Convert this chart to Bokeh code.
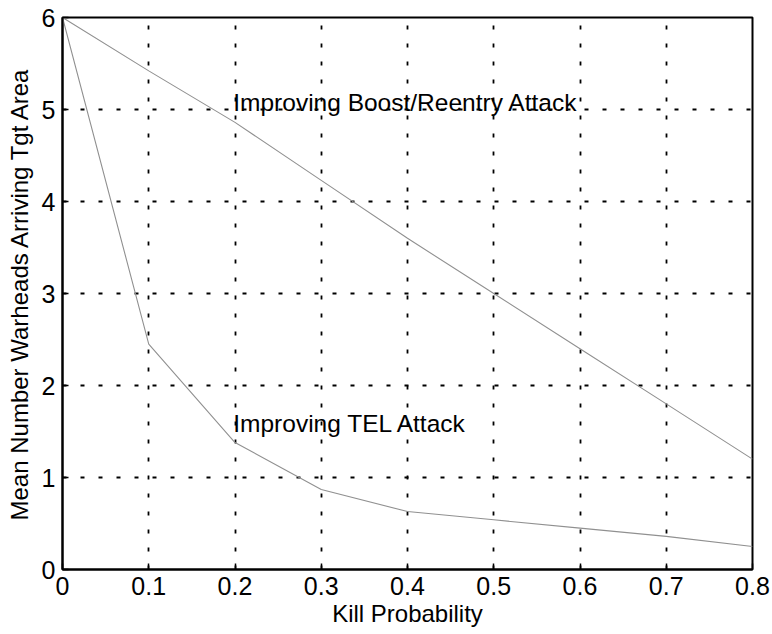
from bokeh.plotting import figure
from bokeh.models import Range1d, FixedTicker
from bokeh.core.properties import value
from bokeh.embed import file_html
from bokeh.resources import INLINE

# Data
kill_prob = [0.0, 0.1, 0.2, 0.3, 0.4, 0.5, 0.6, 0.7, 0.8]
boost_reentry = [6.0, 5.42, 4.86, 4.23, 3.6, 3.0, 2.4, 1.8, 1.2]
tel_attack = [6.0, 2.45, 1.38, 0.87, 0.63, 0.54, 0.45, 0.36, 0.25]

x_ticks = [0, 0.1, 0.2, 0.3, 0.4, 0.5, 0.6, 0.7, 0.8]
x_tick_labels = ["0", "0.1", "0.2", "0.3", "0.4", "0.5", "0.6", "0.7", "0.8"]
y_ticks = [0, 1, 2, 3, 4, 5, 6]
y_tick_labels = ["0", "1", "2", "3", "4", "5", "6"]

annotations = ["Improving Boost/Reentry Attack", "Improving TEL Attack"]

FONT = "Liberation Sans"

p = figure(width=770, height=632, output_backend="svg", toolbar_location=None,
           x_range=Range1d(0, 0.8), y_range=Range1d(0, 6),
           min_border_left=62, min_border_right=18, min_border_top=17, min_border_bottom=63)

p.outline_line_color = "black"
p.outline_line_width = 2
p.background_fill_color = "white"

p.line(kill_prob, boost_reentry, line_color="#909090", line_width=1.1)
p.line(kill_prob, tel_attack, line_color="#909090", line_width=1.1)

p.text(x=[0.198, 0.198], y=[5.08, 1.59], text=annotations,
       text_font=value(FONT), text_font_size="24.5px", text_color="black",
       text_baseline="alphabetic", text_align="left")

for ax, ticks, labels in ((p.xaxis[0], x_ticks, x_tick_labels), (p.yaxis[0], y_ticks, y_tick_labels)):
    ax.ticker = FixedTicker(ticks=ticks)
    ax.major_label_overrides = {t: l for t, l in zip(ticks, labels)}
    ax.major_label_text_font = FONT
    ax.major_label_text_font_size = "25px"
    ax.major_label_text_color = "black"
    ax.axis_line_color = "black"
    ax.axis_line_width = 2
    ax.major_tick_in = 6
    ax.major_tick_out = 0
    ax.major_tick_line_width = 1.5
    ax.minor_tick_line_color = None
    ax.axis_label_text_font = FONT
    ax.axis_label_text_font_style = "normal"
    ax.axis_label_text_color = "black"
    ax.major_label_standoff = 7

p.xaxis.axis_label = "Kill Probability"
p.xaxis.axis_label_text_font_size = "24px"
p.xaxis.axis_label_standoff = 2
p.yaxis.axis_label = "Mean Number Warheads Arriving Tgt Area"
p.yaxis.axis_label_text_font_size = "24px"
p.yaxis.axis_label_standoff = 6

for g, ticks in ((p.xgrid[0], x_ticks), (p.ygrid[0], y_ticks)):
    g.ticker = FixedTicker(ticks=ticks)
    g.grid_line_color = "black"
    g.grid_line_width = 1.8
    g.grid_line_dash = "4 14"

open("out.html", "w").write(file_html(p, INLINE))
